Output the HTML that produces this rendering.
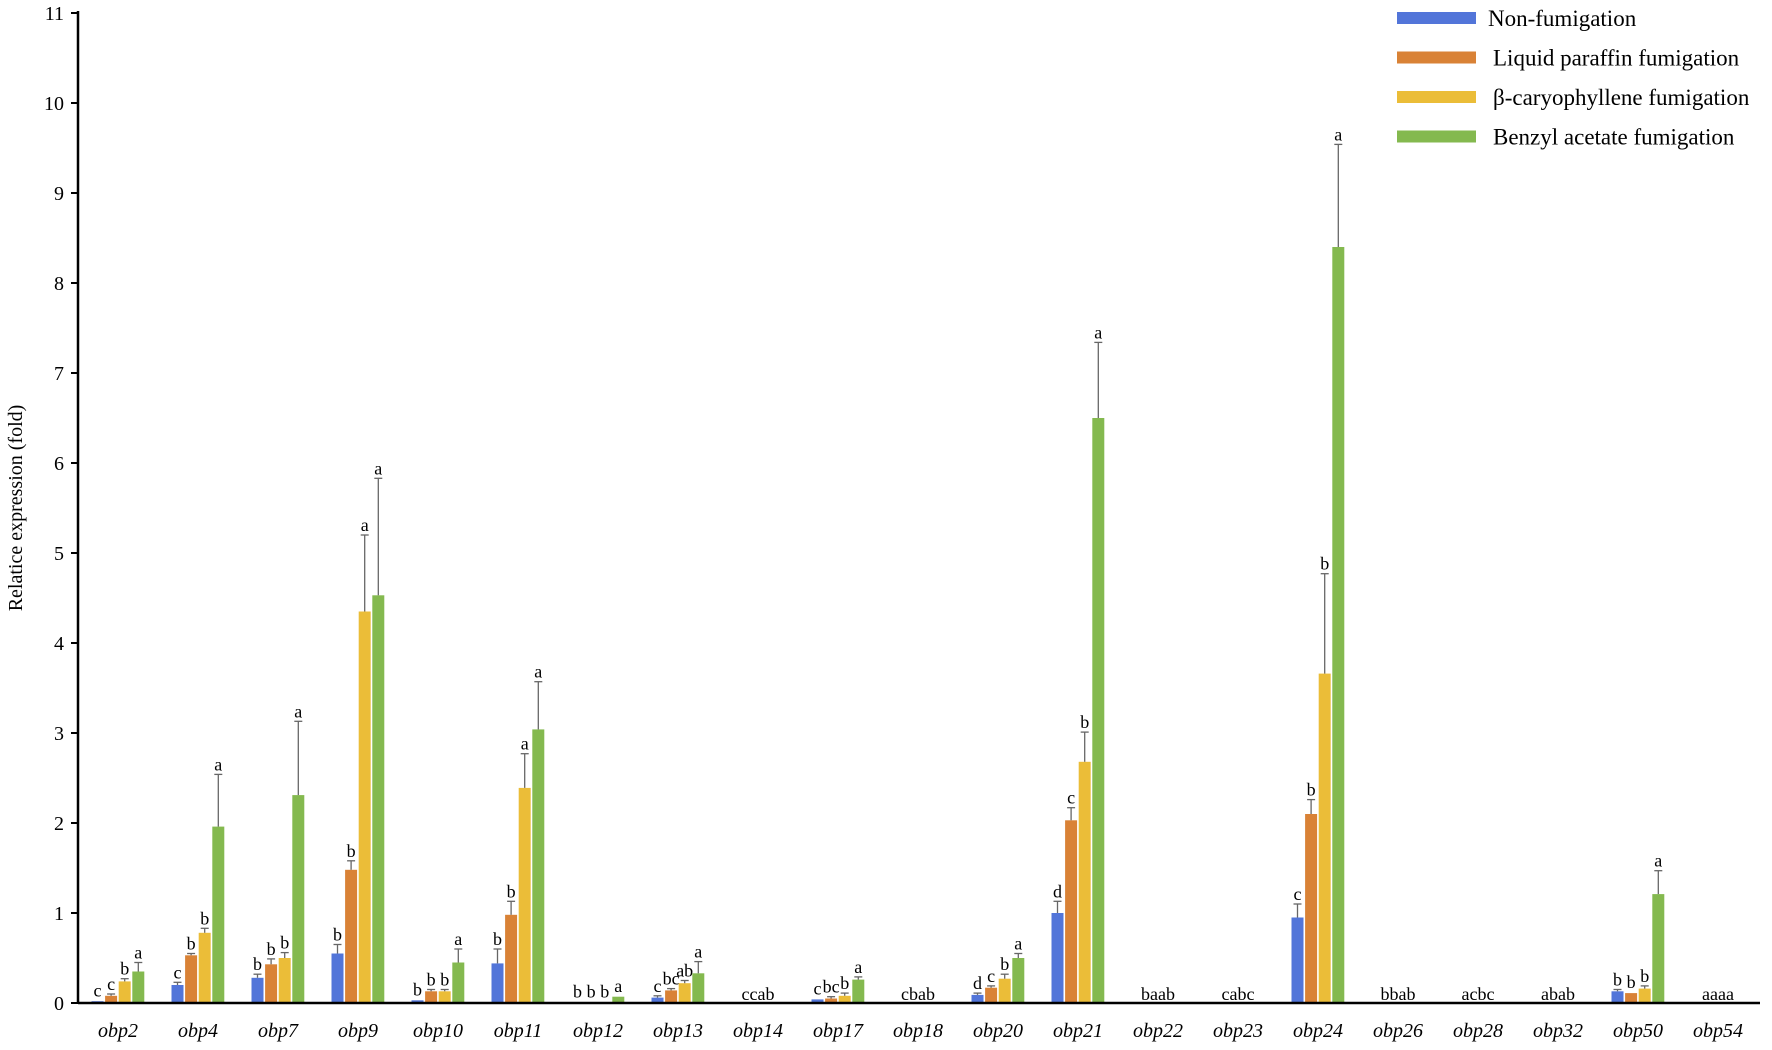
<!DOCTYPE html>
<html><head><meta charset="utf-8"><style>
body{margin:0;background:#fff;}
svg{display:block;font-family:"Liberation Serif",serif;}
</style></head><body>
<svg id="c" width="1772" height="1050" xmlns="http://www.w3.org/2000/svg"></svg>
<script>
const s=document.getElementById('c');
let h='';
const X0=78,Y0=1003,U=90,G=80;
const col=['#5275d9','#d98236','#ebbd38','#84b94f'];
const off=[-20.5,-6.9,6.7,20.3],bw=12;
const data=[
['obp2',[0.02,0.08,0.24,0.35],[0.01,0.02,0.03,0.1],['c','c','b','a']],
['obp4',[0.2,0.53,0.78,1.96],[0.03,0.02,0.05,0.58],['c','b','b','a']],
['obp7',[0.28,0.43,0.5,2.31],[0.04,0.06,0.06,0.82],['b','b','b','a']],
['obp9',[0.55,1.48,4.35,4.53],[0.1,0.1,0.85,1.3],['b','b','a','a']],
['obp10',[0.03,0.13,0.13,0.45],[0.01,0.02,0.02,0.15],['b','b','b','a']],
['obp11',[0.44,0.98,2.39,3.04],[0.16,0.15,0.38,0.53],['b','b','a','a']],
['obp12',[0.01,0.01,0.01,0.07],[0.005,0.005,0.005,0.01],['b','b','b','a']],
['obp13',[0.06,0.14,0.22,0.33],[0.02,0.02,0.03,0.13],['c','bc','ab','a']],
['obp14',null,null,'ccab'],
['obp17',[0.04,0.05,0.08,0.26],[0.01,0.02,0.03,0.03],['c','bc','b','a']],
['obp18',null,null,'cbab'],
['obp20',[0.09,0.17,0.27,0.5],[0.02,0.02,0.05,0.05],['d','c','b','a']],
['obp21',[1.0,2.03,2.68,6.5],[0.13,0.14,0.33,0.84],['d','c','b','a']],
['obp22',null,null,'baab'],
['obp23',null,null,'cabc'],
['obp24',[0.95,2.1,3.66,8.4],[0.15,0.16,1.11,1.14],['c','b','b','a']],
['obp26',[0,0.01,0,0],[0,0,0,0],null,'bbab'],
['obp28',null,null,'acbc'],
['obp32',null,null,'abab'],
['obp50',[0.13,0.11,0.16,1.21],[0.02,0.01,0.03,0.26],['b','b','b','a']],
['obp54',null,null,'aaaa']];
data.forEach((d,i)=>{
 const cx=X0+G*(i+0.5);
 h+=`<text x="${cx}" y="1037" font-size="20" font-style="italic" text-anchor="middle">${d[0]}</text>`;
 if(d[1]){
  d[1].forEach((v,k)=>{
   const x=cx+off[k];const y=Y0-v*U;
   h+=`<rect x="${x-bw/2}" y="${y}" width="${bw}" height="${v*U}" fill="${col[k]}"/>`;
   const e=d[2][k];const ye=y-e*U;
   if(e>0.015){h+=`<line x1="${x}" y1="${y}" x2="${x}" y2="${ye}" stroke="#666" stroke-width="1.3"/><line x1="${x-4}" y1="${ye}" x2="${x+4}" y2="${ye}" stroke="#666" stroke-width="1.3"/>`;}
   if(d[3]) h+=`<text x="${x}" y="${ye-4}" font-size="18" text-anchor="middle">${d[3][k]}</text>`;
  });
 }
 const t=typeof d[3]==='string'?d[3]:d[4];
 if(t) h+=`<text x="${cx}" y="${Y0-3}" font-size="18" text-anchor="middle">${t}</text>`;
});
h+=`<line x1="${X0}" y1="11" x2="${X0}" y2="${Y0}" stroke="#000" stroke-width="2.5"/>`;
h+=`<line x1="${X0}" y1="${Y0}" x2="${X0+G*21+2}" y2="${Y0}" stroke="#000" stroke-width="2.5"/>`;
for(let v=0;v<=11;v++){const y=Y0-v*U;
 h+=`<line x1="${X0-7}" y1="${y}" x2="${X0}" y2="${y}" stroke="#000" stroke-width="2"/>`;
 h+=`<text x="${X0-14}" y="${y+7}" font-size="20" text-anchor="end">${v}</text>`;}
h+=`<text transform="translate(22,508) rotate(-90)" font-size="20" text-anchor="middle">Relatice expression (fold)</text>`;
const lg=['Non-fumigation','Liquid paraffin fumigation','β-caryophyllene fumigation','Benzyl acetate fumigation'];
lg.forEach((t,k)=>{const y=18+k*39.5;
 h+=`<rect x="1397" y="${y-6}" width="79" height="12" fill="${col[k]}"/>`;
 h+=`<text x="${k==0?1488:1493}" y="${y+8}" font-size="23">${t}</text>`;});
s.innerHTML=h;
</script>
</body></html>
